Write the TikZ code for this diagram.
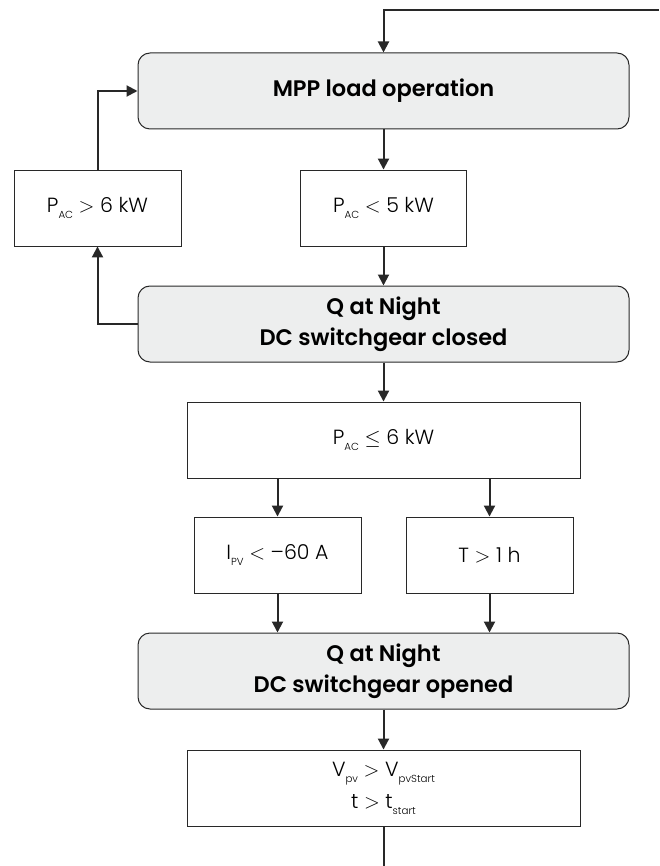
\documentclass[tikz,border=0pt]{standalone}
\usepackage{fontspec}
\setmainfont{Poppins}
\newfontfamily\lightf{Poppins Light}
\newfontfamily\semif{Poppins SemiBold}
\usetikzlibrary{arrows.meta,calc}
\definecolor{boxgray}{RGB}{237,238,238}
\definecolor{linedark}{RGB}{40,40,40}
\newcommand{\sbs}[1]{\raisebox{-0.28em}{\scalebox{0.5}{#1}}}
\newcommand{\mygt}{\ensuremath{>}}
\newcommand{\mylt}{\ensuremath{<}}
\newcommand{\myle}{\ensuremath{\leq}}
\tikzset{
  statebox/.style={draw=linedark, line width=1pt, fill=boxgray, rounded corners=12pt,
    minimum width=491pt, minimum height=76pt, inner sep=0pt, align=center,
    font=\semif\fontsize{22.5}{31}\selectfont},
  condbox/.style={draw=linedark, line width=0.9pt, fill=white,
    minimum height=76pt, inner sep=0pt, align=center,
    font=\lightf\fontsize{20.5}{32}\selectfont},
  arr/.style={draw=linedark, line width=2pt, -{Triangle[width=11pt,length=11pt]}},
  plain/.style={draw=linedark, line width=2pt}
}
\begin{document}
\begin{tikzpicture}[x=1pt,y=-1pt]
\useasboundingbox (0,0) rectangle (659,866);
\node[statebox] (mpp) at (383.5,91) {MPP load operation};
\node[condbox, minimum width=167pt] (c6) at (97.5,208) {P\sbs{AC} \mygt\ 6 kW};
\node[condbox, minimum width=166pt] (c5) at (383.5,208) {P\sbs{AC} \mylt\ 5 kW};
\node[statebox] (qc) at (383.5,324) {Q at Night\\DC switchgear closed};
\node[condbox, minimum width=393pt] (c6le) at (383.5,440) {P\sbs{AC} \myle\ 6 kW};
\node[condbox, minimum width=167pt] (ci) at (277.5,555) {I\sbs{PV} \mylt\ –60 A};
\node[condbox, minimum width=167pt] (ct) at (489.5,555) {T \mygt\ 1 h};
\node[statebox] (qo) at (383.5,671) {Q at Night\\DC switchgear opened};
\node[condbox, minimum width=393pt] (cv) at (383.5,788) {V\sbs{pv} \mygt\ V\sbs{pvStart}\\t \mygt\ t\sbs{start}};
\coordinate (topR) at (659,10);
\coordinate (bot) at (383.5,866);
\draw[arr] (topR) -| (mpp.north);
\draw[arr] (mpp.south) -- (c5.north);
\draw[arr] (c5.south) -- (qc.north);
\draw[arr] (qc.west) -| (c6.south);
\draw[arr] (c6.north) |- (mpp.west);
\draw[arr] (qc.south) -- (c6le.north);
\draw[arr] (ci.north |- c6le.south) -- (ci.north);
\draw[arr] (ct.north |- c6le.south) -- (ct.north);
\draw[arr] (ci.south) -- (ci.south |- qo.north);
\draw[arr] (ct.south) -- (ct.south |- qo.north);
\draw[arr] (qo.south) -- (cv.north);
\draw[plain] (cv.south) -- (bot);
\end{tikzpicture}
\end{document}
